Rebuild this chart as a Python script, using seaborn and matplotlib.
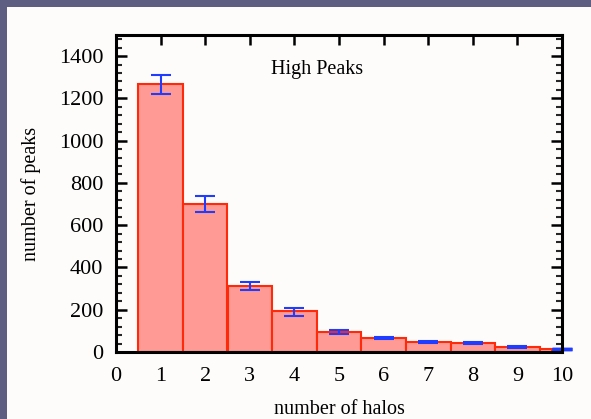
import matplotlib
matplotlib.use("Agg")
import matplotlib.pyplot as plt
import seaborn as sns
import pandas as pd
import numpy as np
from matplotlib.ticker import MultipleLocator
from matplotlib.patches import Rectangle

halos = [1, 2, 3, 4, 5, 6, 7, 8, 9]
peaks = [1266, 702, 312, 192, 96, 68, 49, 41, 25]
err_lo = [1220, 664, 295, 172, 85, 62, 44, 37, 20]
err_hi = [1311, 738, 333, 206, 104, 72, 54, 45, 30]
last_halo = 10
last_peak = 14
last_err = 12

sns.set_theme(style="white")
plt.rcParams['font.family'] = ['Liberation Serif', 'DejaVu Serif']

fig = plt.figure(figsize=(5.91, 4.19), dpi=100)
fig.patch.set_facecolor('#5d5e81')
fig.patches.append(Rectangle((7/591, 0), 1, 1 - 7/419, transform=fig.transFigure,
                             facecolor='#fdfcfb', edgecolor='none', zorder=-10))
ax = fig.add_axes([116/591, 1 - 352/419, (562 - 116)/591, (352 - 35)/419])
ax.set_facecolor('#fdfcfb')

df = pd.DataFrame({"halos": halos, "peaks": peaks})
sns.barplot(data=df, x="halos", y="peaks", native_scale=True, width=1.0,
            color='#ff9a94', edgecolor='#ff2a0a', linewidth=1.5, saturation=1,
            errorbar=None, ax=ax, zorder=2)
ax.bar(last_halo - 0.5, last_peak, width=0.28, align='edge',
       color='#ff9a94', edgecolor='#ff2a0a', linewidth=1.5, zorder=2)

yerr = [np.array(peaks) - np.array(err_lo), np.array(err_hi) - np.array(peaks)]
ax.errorbar(halos, peaks, yerr=yerr, fmt='none', ecolor='#1f3cff',
            elinewidth=1.5, capsize=7.2, capthick=1.5, zorder=3)
ax.errorbar([last_halo], [last_err], yerr=[[0], [0]], fmt='none', ecolor='#1f3cff',
            elinewidth=1.5, capsize=7.2, capthick=2.5, zorder=3, clip_on=False)

ax.set_xlim(0, 10)
ax.set_ylim(0, 1500)
ax.yaxis.set_minor_locator(MultipleLocator(40))
ax.xaxis.set_major_locator(MultipleLocator(1))
ax.set_yticks(range(0, 1401, 200))

for s in ax.spines.values():
    s.set_linewidth(2.2)
    s.set_color('black')
    s.set_zorder(5)

ax.tick_params(axis='y', which='major', direction='in', length=8, width=1.8,
               left=True, right=True, labelsize=16, pad=9, colors='black')
ax.tick_params(axis='y', which='minor', direction='in', length=4, width=1.5,
               left=True, right=True)
ax.tick_params(axis='x', which='major', direction='in', length=7, width=1.8,
               top=True, bottom=False, labelsize=16, pad=11, colors='black')

ax.set_xlabel("number of halos", fontsize=14.5, labelpad=10, color='black')
ax.set_ylabel("number of peaks", fontsize=14.5, labelpad=13, color='black')
ax.text(4.5, 1335, "High Peaks", ha='center', va='center', fontsize=14.5, color='black')

fig.savefig("out.png", dpi=100, facecolor=fig.get_facecolor())
